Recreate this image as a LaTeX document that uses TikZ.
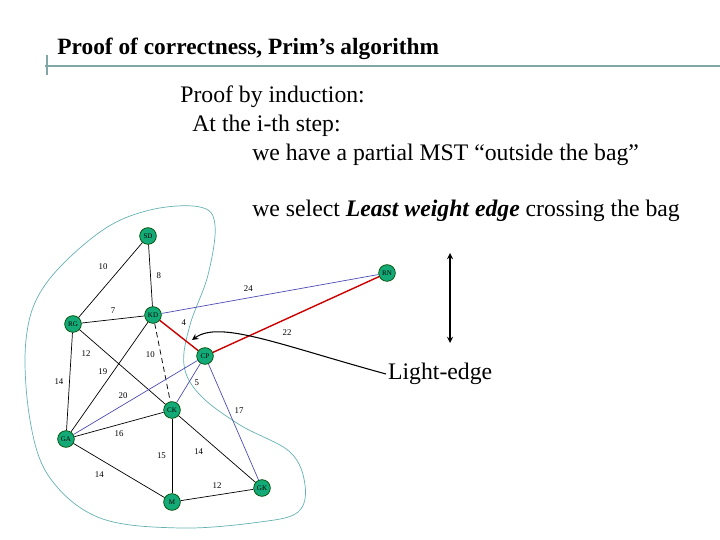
\documentclass[tikz,border=0pt]{standalone}
\usepackage{fontspec}
\setmainfont{Liberation Serif}
\usetikzlibrary{arrows,shapes,positioning}

\begin{document}
\begin{tikzpicture}[
    x=0.02cm,y=-0.02cm,
    vtx/.style={circle,draw=green!30!black,fill={rgb,255:red,20;green,170;blue,120},minimum size=9.5pt,inner sep=0pt,font=\fontsize{4}{4}\selectfont},
    wt/.style={font=\fontsize{5}{5}\selectfont},
    edge/.style={thin},
    cross/.style={thin,draw=blue!40!gray},
    light/.style={thick,draw=red!80!black},
    body/.style={anchor=west,font=\fontsize{13.5}{15}\selectfont},
    arrow/.style={->,thick,>=stealth}
]
    \useasboundingbox (0,0) rectangle (720,540);
    % Header
    \draw[teal!40!gray!70,thick] (45,66) -- (720,66);
    \draw[teal!40!gray!70,thick] (47,55) -- (47,75);
    \node[anchor=west,inner sep=0pt,font=\fontsize{13.3}{15}\selectfont\bfseries] (title) at (57,49) {Proof of correctness, Prim’s algorithm};
    % Text
    \node[body,inner sep=0pt] (t1) at (180,97) {Proof by induction:};
    \node[body,inner sep=0pt] (t2) at (192,126) {At the i-th step:};
    \node[body,inner sep=0pt] (t3) at (252,155) {we have a partial MST “outside the bag”};
    \node[body,inner sep=0pt] (t4) at (252,211) {we select \textbf{\textit{Least weight edge}} crossing the bag};
    % The bag
    \draw[teal!60,thin] plot[smooth cycle,tension=0.6] coordinates {
        (200,207) (215,225) (208,275) (190,325) (184,365) (200,395)
        (240,425) (290,452) (305,485) (298,512) (260,522) (180,528)
        (100,518) (50,478) (30,420) (26,340) (45,285) (100,232) (150,210)};
    % Vertices
    \node[vtx] (SD) at (148,236) {SD};
    \node[vtx] (RN) at (387,273) {RN};
    \node[vtx] (KD) at (153,315) {KD};
    \node[vtx] (RG) at (73,324) {RG};
    \node[vtx] (CP) at (205,356) {CP};
    \node[vtx] (CK) at (172,410) {CK};
    \node[vtx] (GA) at (66,439) {GA};
    \node[vtx] (M) at (172,502) {M};
    \node[vtx] (GK) at (262,488) {GK};
    % Edges
    \draw[edge] (SD) -- (RG) node[wt,pos=0.45,above left] {10};
    \draw[edge] (SD) -- (KD) node[wt,midway,right] {8};
    \draw[edge] (RG) -- (KD) node[wt,pos=0.5,above] {7};
    \draw[cross] (KD) -- (RN) node[wt,pos=0.4,above] {24};
    \draw[light] (KD) -- (CP) node[wt,pos=0.4,above right] {4};
    \draw[light] (CP) -- (RN) node[wt,pos=0.38,below right] {22};
    \draw[edge] (RG) -- (CK) node[wt,pos=0.2,below left] {12};
    \draw[edge,densely dashed] (KD) -- (CK) node[wt,pos=0.4,left] {10};
    \draw[edge] (KD) -- (GA) node[wt,pos=0.45,left] {19};
    \draw[cross] (CP) -- (GA) node[wt,pos=0.6,above] {20};
    \draw[cross] (CP) -- (CK) node[wt,pos=0.5,right] {5};
    \draw[cross] (CP) -- (GK) node[wt,pos=0.4,right] {17};
    \draw[edge] (RG) -- (GA) node[wt,midway,left] {14};
    \draw[edge] (GA) -- (CK) node[wt,pos=0.5,below] {16};
    \draw[edge] (CK) -- (M) node[wt,midway,left] {15};
    \draw[edge] (CK) -- (GK) node[wt,pos=0.4,below left] {14};
    \draw[edge] (GA) -- (M) node[wt,pos=0.4,below left] {14};
    \draw[edge] (M) -- (GK) node[wt,pos=0.5,above] {12};
    % Light-edge pointer
    \node[body,inner sep=1pt] (lbl) at (386,374) {Light-edge};
    \draw[arrow,semithick] (lbl.west) .. controls (280,345) and (220,320) .. (192,340);
    \coordinate (up) at (450,253);
    \coordinate (dn) at (450,343);
    \draw[<->,>=stealth,semithick] (up) -- (dn);
\end{tikzpicture}
\end{document}
